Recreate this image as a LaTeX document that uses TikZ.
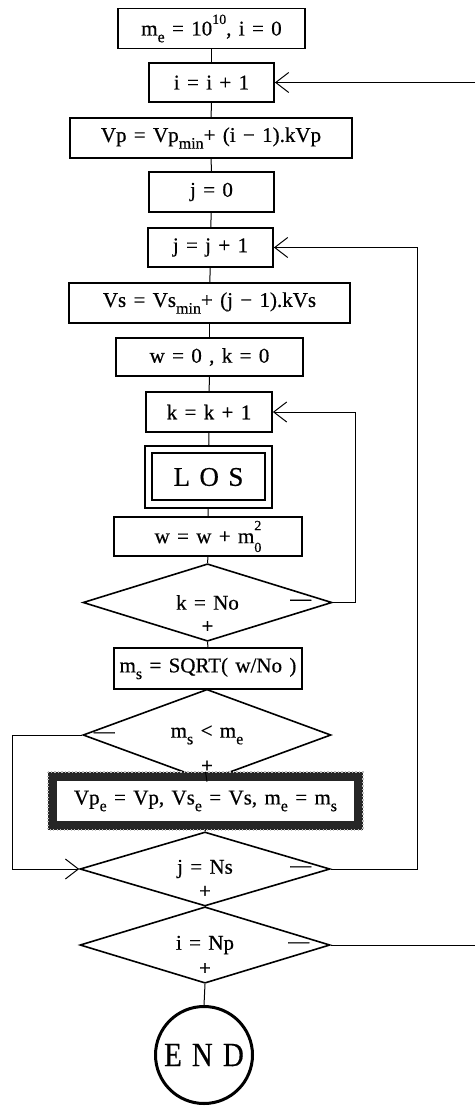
\documentclass[tikz,border=0pt]{standalone}
\usepackage{fontspec}
\usepackage{graphicx}
\setmainfont{Liberation Serif}[WordSpace=1.4, FakeBold=0.5]
\usetikzlibrary{shapes.geometric,arrows.meta}
\newcommand{\sbt}[1]{\raisebox{-0.32em}{\fontsize{16}{16}\selectfont #1}}
\newcommand{\spt}[1]{\raisebox{0.55em}{\fontsize{14}{14}\selectfont #1}}
\tikzset{
  rect/.style={draw, line width=1.8pt, inner sep=0pt, font=\fontsize{21}{23}\selectfont},
  dia/.style={diamond, draw, line width=1.6pt, inner sep=0pt, font=\fontsize{21}{23}\selectfont},
  conn/.style={line width=1pt},
  arr/.style={conn, -{Straight Barb[length=13pt,width=20pt,line width=1pt]}},
  sign/.style={inner sep=0pt, font=\fontsize{21}{23}\selectfont},
}
\begin{document}
\begin{tikzpicture}[x=1pt,y=-1pt]
\useasboundingbox (0,0) rectangle (475,1108);
% boxes
\node[rect, minimum width=187pt, minimum height=40pt] (n1) at (211.5,28.5) {m\sbt{e} = 10\spt{10}, i = 0};
\node[rect, minimum width=125pt, minimum height=39pt] (n2) at (211.5,82.5) {i = i + 1};
\node[rect, minimum width=282pt, minimum height=40pt] (n3) at (211,138) {Vp = Vp\sbt{min}+ (i − 1).kVp};
\node[rect, minimum width=125pt, minimum height=40pt] (n4) at (211.5,192) {j = 0};
\node[rect, minimum width=125pt, minimum height=39pt] (n5) at (210.5,247.5) {j = j + 1};
\node[rect, minimum width=281pt, minimum height=40pt] (n6) at (209.5,303) {Vs = Vs\sbt{min}+ (j − 1).kVs};
\node[rect, minimum width=187pt, minimum height=38pt] (n7) at (209.5,357) {w = 0 , k = 0};
\node[rect, minimum width=126pt, minimum height=40pt] (n8) at (209,412) {k = k + 1};
\node[rect, minimum width=127pt, minimum height=62pt, font=\fontsize{27}{29}\selectfont] (los) at (208.5,477) {L O S};
\draw[line width=2.4pt] ([shift={(8,8)}]los.north west) rectangle ([shift={(-8,-9)}]los.south east);
\node[rect, minimum width=188pt, minimum height=39pt] (n10) at (208,536.5) {w = w + m\rlap{\raisebox{0.62em}{\fontsize{14}{14}\selectfont 2}}\raisebox{-0.42em}{\fontsize{14}{14}\selectfont 0}};
\node[dia, minimum width=249pt, minimum height=61pt] (d1) at (207.5,602.5) {k = No};
\node[rect, minimum width=188pt, minimum height=41pt] (n12) at (208,668.5) {m\sbt{s} = SQRT( w/No )};
\node[dia, minimum width=248pt, minimum height=62pt] (d2) at (207,735) {m\sbt{s} < m\sbt{e}};
\node[draw=black!85, line width=9pt, inner sep=0pt, minimum width=306pt, minimum height=49pt, font=\fontsize{21}{23}\selectfont] (hv) at (205.5,801) {Vp\sbt{e} = Vp, Vs\sbt{e} = Vs, m\sbt{e} = m\sbt{s}};
\draw[black!25, line width=1.3pt, dash pattern=on 1.3pt off 2.2pt] (hv.north west) rectangle (hv.south east);
\node[dia, minimum width=250pt, minimum height=64pt] (d3) at (205,869) {j = Ns};
\node[dia, minimum width=250pt, minimum height=60pt] (d4) at (205,945) {i = Np};
\node[circle, draw, line width=3pt, minimum size=97pt, inner sep=0pt, font=\fontsize{34}{36}\selectfont] (end) at (204,1055) {\scalebox{0.85}[1]{E N D}};
% signs
\node[sign] at ([yshift=15pt]d1.south) {+};
\node[sign] at ([xshift=-32pt]d1.east) {—};
\node[sign] at ([yshift=15pt]d2.south) {+};
\node[sign] at ([xshift=22pt]d2.west) {—};
\node[sign] at ([yshift=15pt]d3.south) {+};
\node[sign] at ([xshift=-30pt]d3.east) {—};
\node[sign] at ([yshift=15pt]d4.south) {+};
\node[sign] at ([xshift=-32pt]d4.east) {—};
% main flow
\draw[conn] (n1) -- (n2);
\draw[conn] (n2) -- (n3);
\draw[conn] (n3) -- (n4);
\draw[conn] (n4) -- (n5);
\draw[conn] (n5) -- (n6);
\draw[conn] (n6) -- (n7);
\draw[conn] (n7) -- (n8);
\draw[conn] (n8) -- (los);
\draw[conn] (los) -- (n10);
\draw[conn] (n10.south) -- (d1.north);
\draw[conn] (d1.south) -- (n12.north);
\draw[conn] (n12.south) -- (d2.north);
\draw[conn] (d2.south) -- (hv.north);
\draw[conn] (hv.south) -- (d3.north);
\draw[conn] (d3.south) -- (d4.north);
\draw[conn] (d4.south) -- (end.north);
% loops
\coordinate (kx) at (355,0);
\coordinate (jx) at (417,0);
\coordinate (ix) at (475,0);
\coordinate (lx) at (12,0);
\draw[arr] (d1.east) -- (d1.east -| kx) |- (n8.east);
\draw[arr] (d3.east) -- (d3.east -| jx) |- (n5.east);
\draw[conn] (d4.east) -- (d4.east -| ix);
\draw[arr] (n2.east -| ix) -- (n2.east);
\draw[arr] (d2.west) -- (d2.west -| lx) |- (d3.west);
\end{tikzpicture}
\end{document}
